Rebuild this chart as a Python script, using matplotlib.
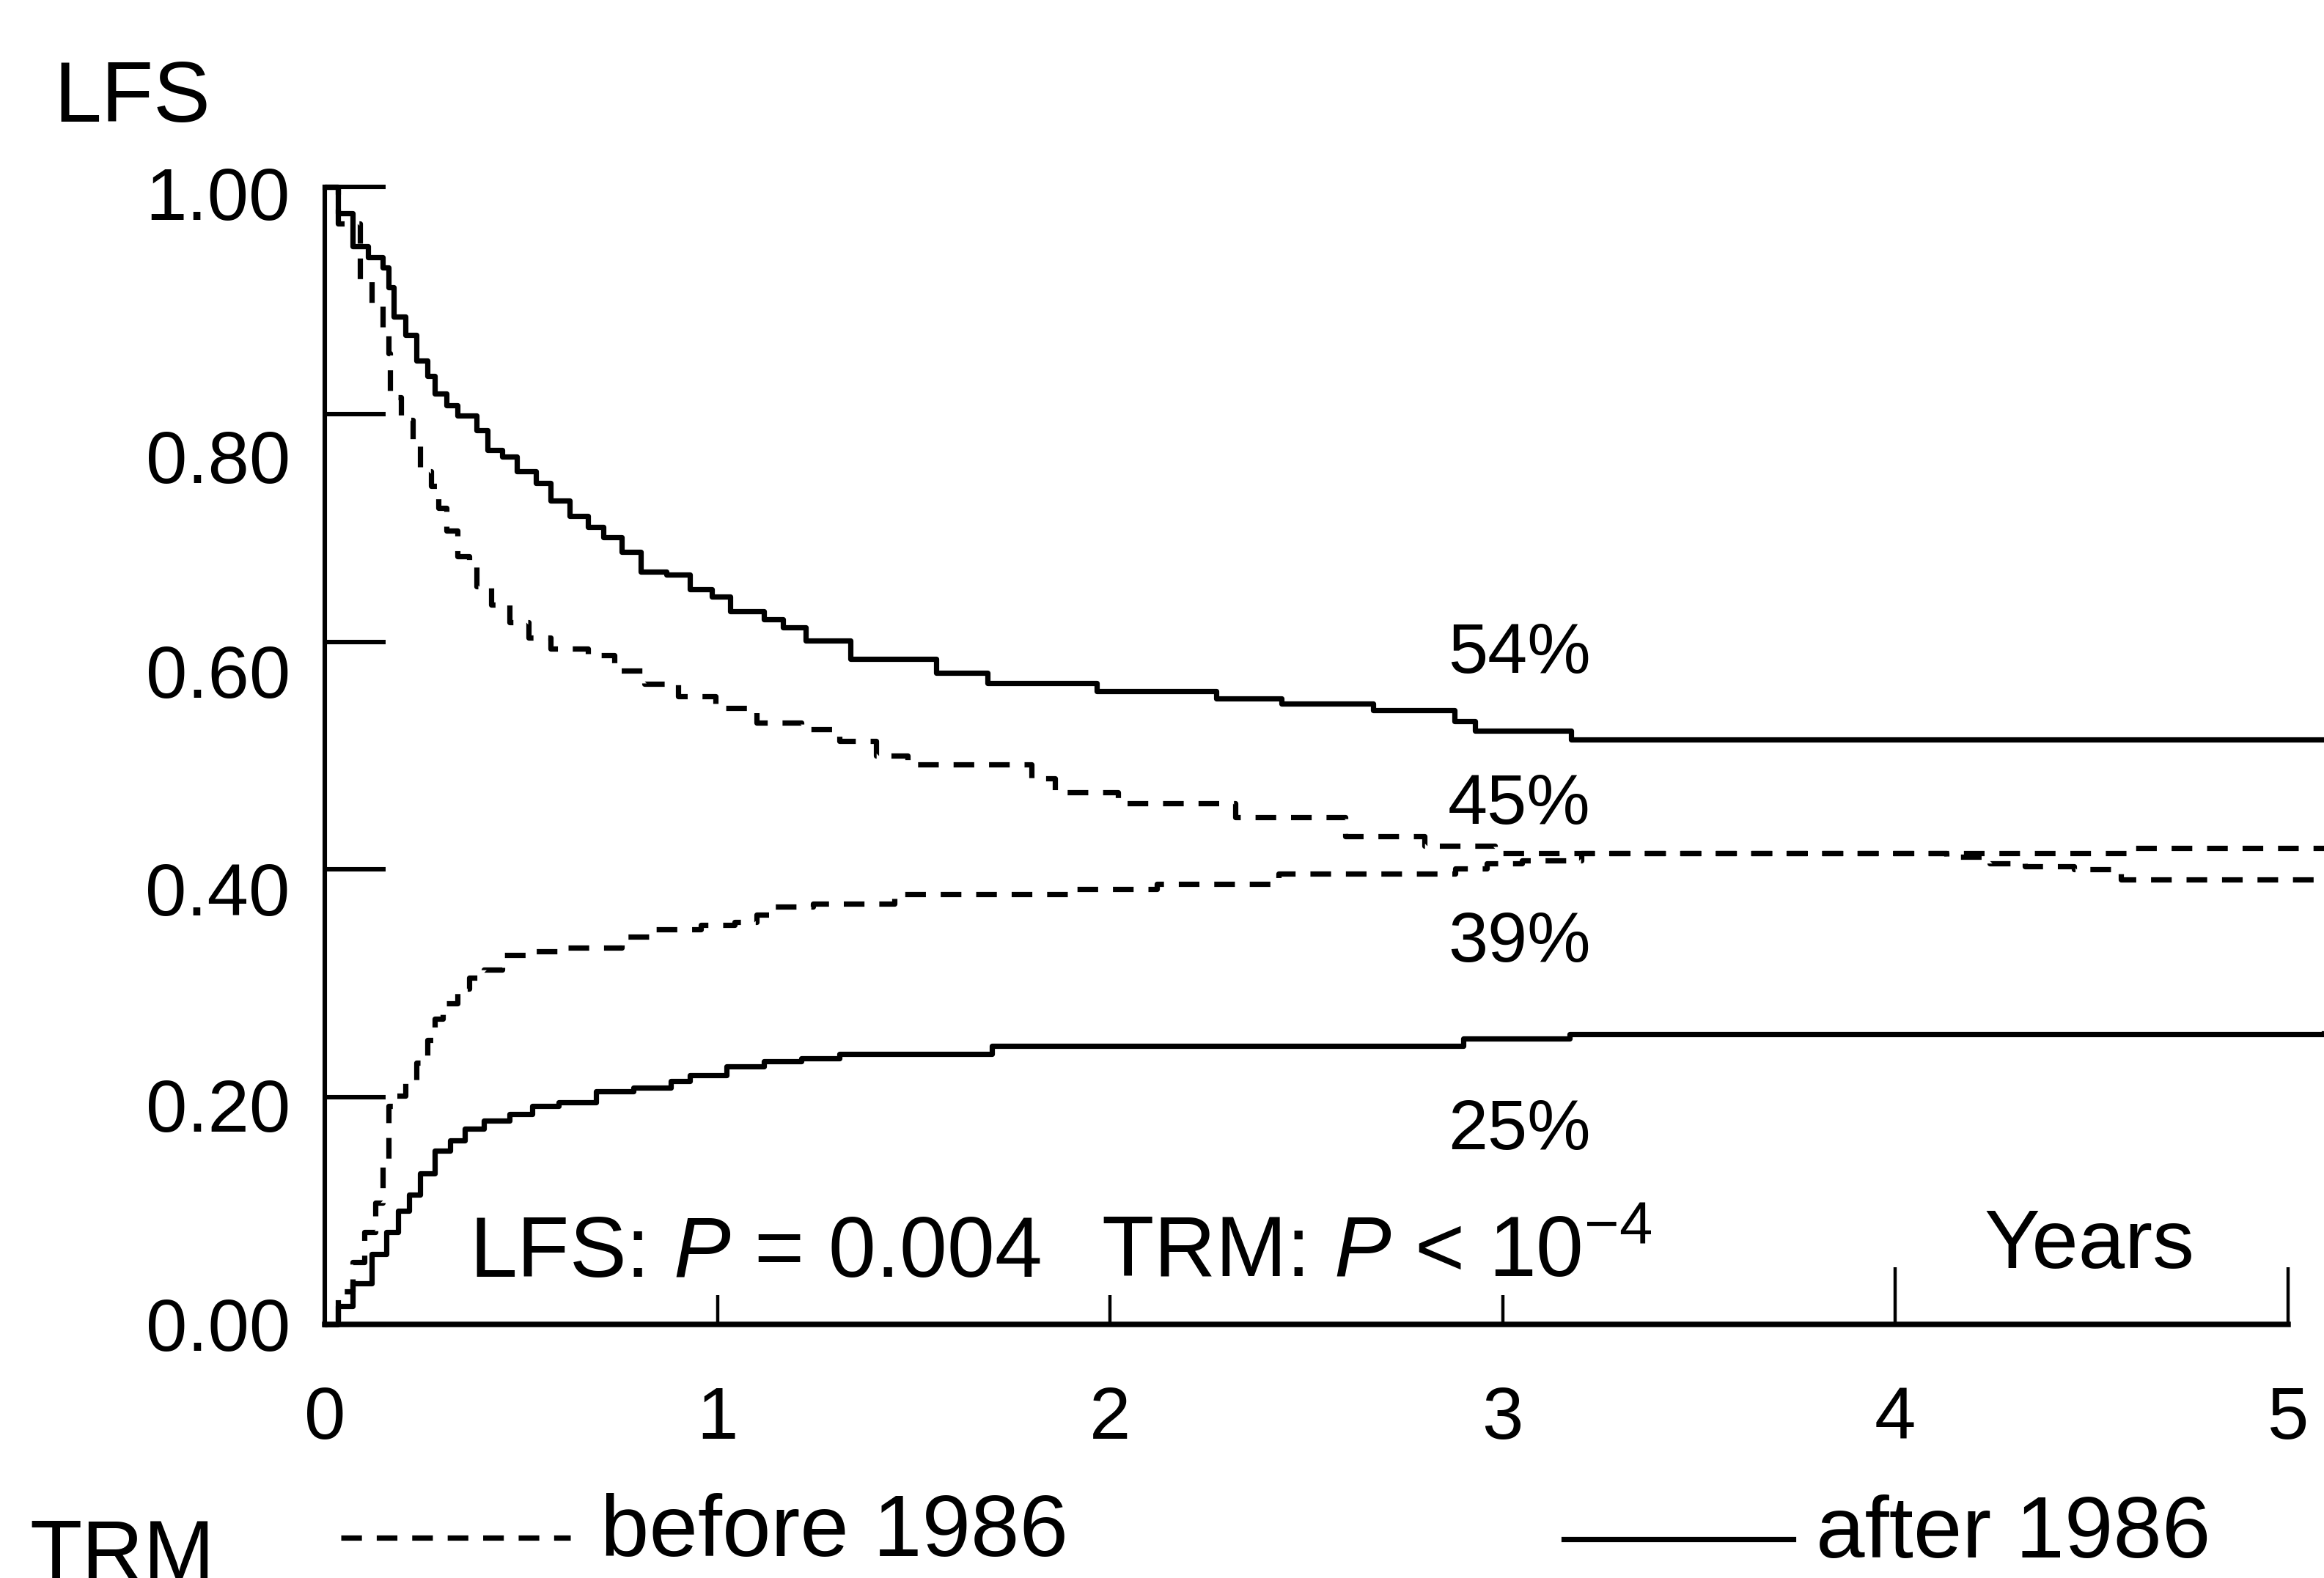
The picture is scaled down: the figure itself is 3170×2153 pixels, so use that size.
import matplotlib
matplotlib.use("Agg")
import numpy as np
import matplotlib.pyplot as plt
from matplotlib.lines import Line2D
from matplotlib.transforms import ScaledTranslation

plt.rcParams['font.family'] = ['Liberation Sans', 'DejaVu Sans']
plt.rcParams['mathtext.fontset'] = 'custom'
plt.rcParams['mathtext.rm'] = 'Liberation Sans'
plt.rcParams['mathtext.it'] = 'Liberation Sans:italic'

# ---------------- data (years, proportion) ----------------
lfs_after_t = [0, 0.033, 0.071, 0.11, 0.148, 0.162, 0.176, 0.205, 0.233, 0.262, 0.281,
               0.31, 0.338, 0.386, 0.414, 0.452, 0.49, 0.538, 0.576, 0.624, 0.671, 0.71,
               0.757, 0.805, 0.871, 0.929, 0.986, 1.033, 1.119, 1.167, 1.224, 1.338,
               1.557, 1.688, 1.967, 2.27, 2.437, 2.67, 2.877, 2.93, 3.175, 5.092]
lfs_after_v = [1.0, 0.977, 0.948, 0.938, 0.929, 0.912, 0.886, 0.870, 0.847, 0.834, 0.818,
               0.808, 0.799, 0.786, 0.769, 0.763, 0.750, 0.740, 0.724, 0.711, 0.701, 0.692,
               0.679, 0.662, 0.659, 0.646, 0.640, 0.627, 0.620, 0.613, 0.601, 0.585,
               0.573, 0.564, 0.557, 0.550, 0.546, 0.540, 0.530, 0.522, 0.514, 0.514]

lfs_before_t = [0, 0.033, 0.09, 0.119, 0.148, 0.162, 0.167, 0.195, 0.224, 0.243, 0.271,
                0.29, 0.31, 0.338, 0.367, 0.386, 0.424, 0.471, 0.519, 0.576, 0.671, 0.738,
                0.814, 0.9, 0.995, 1.1, 1.214, 1.31, 1.405, 1.485, 1.80, 1.86, 2.02, 2.32,
                2.60, 2.80, 2.98, 4.13, 4.24, 4.33, 4.455, 4.575, 5.092]
lfs_before_v = [1.0, 0.968, 0.919, 0.896, 0.873, 0.854, 0.815, 0.795, 0.773, 0.750, 0.737,
                0.718, 0.698, 0.675, 0.666, 0.649, 0.633, 0.617, 0.604, 0.594, 0.588, 0.575,
                0.563, 0.552, 0.542, 0.529, 0.523, 0.513, 0.500, 0.492, 0.480, 0.468, 0.458,
                0.446, 0.429, 0.421, 0.414, 0.411, 0.405, 0.403, 0.400, 0.391, 0.391]

trm_before_t = [0, 0.033, 0.071, 0.1, 0.129, 0.148, 0.162, 0.176, 0.205, 0.233, 0.262,
                0.281, 0.3, 0.338, 0.367, 0.405, 0.452, 0.529, 0.595, 0.757, 0.833, 0.957,
                1.043, 1.1, 1.138, 1.243, 1.45, 1.91, 2.12, 2.43, 2.88, 2.96, 3.05, 3.2,
                4.6, 5.092]
trm_before_v = [0.0, 0.029, 0.055, 0.081, 0.107, 0.140, 0.192, 0.201, 0.214, 0.230, 0.250,
                0.269, 0.282, 0.295, 0.305, 0.312, 0.325, 0.328, 0.331, 0.341, 0.347, 0.351,
                0.354, 0.360, 0.367, 0.370, 0.378, 0.383, 0.387, 0.396, 0.401, 0.405, 0.408,
                0.414, 0.419, 0.419]

trm_after_t = [0, 0.033, 0.071, 0.119, 0.157, 0.186, 0.214, 0.243, 0.281, 0.319, 0.357,
               0.405, 0.471, 0.529, 0.595, 0.69, 0.786, 0.881, 0.929, 1.024, 1.119, 1.214,
               1.31, 1.70, 2.90, 3.17, 5.092]
trm_after_v = [0.0, 0.016, 0.036, 0.062, 0.081, 0.100, 0.114, 0.133, 0.153, 0.162, 0.172,
               0.179, 0.185, 0.192, 0.195, 0.205, 0.208, 0.214, 0.219, 0.227, 0.231, 0.234,
               0.238, 0.245, 0.251, 0.255, 0.256]

y_ticks = [0.0, 0.2, 0.4, 0.6, 0.8, 1.0]
y_ticklabels = ["0.00", "0.20", "0.40", "0.60", "0.80", "1.00"]
y_label_nudge_px = [0, 11, 26, 40, 57, 8]
x_ticks_short = [0, 1, 2, 3]
x_ticks_long = [4, 5]

pct_labels = ["54%", "45%", "39%", "25%"]
pct_y = [0.573, 0.440, 0.319, 0.154]

# ---------------- figure ----------------
W, H = 3170, 2153
fig = plt.figure(figsize=(W / 100, H / 100), dpi=100)
ax = fig.add_axes([443 / W, 1 - 1807 / H, 1 - 443 / W, (1807 - 255) / H])
ax.set_xlim(0, 5.092)
ax.set_ylim(0, 1)

LW = 5.2
DASH_ON, DASH_OFF = 3.9, 2.8


def step_path_length_pts(t, v, t_stop):
    """Length (points) of the steps-post path from its start up to t_stop."""
    xs, ys = [t[0]], [v[0]]
    for i in range(1, len(t)):
        if t[i] > t_stop:
            xs.append(t_stop)
            ys.append(v[i - 1])
            break
        xs += [t[i], t[i]]
        ys += [v[i - 1], v[i]]
    d = ax.transData.transform(np.column_stack([xs, ys]))
    seg = np.diff(d, axis=0)
    return float(np.sum(np.hypot(seg[:, 0], seg[:, 1]))) * 72.0 / fig.dpi


# align dash phase of the two dashed curves where they coincide (from ~3.2 years)
merge_t = 3.2
period_pts = (DASH_ON + DASH_OFF) * LW
len_l = step_path_length_pts(lfs_before_t, lfs_before_v, merge_t)
len_t = step_path_length_pts(trm_before_t, trm_before_v, merge_t)
trm_offset = ((len_l - len_t) % period_pts) / LW

ax.plot(lfs_after_t, lfs_after_v, drawstyle='steps-post', color='black', lw=LW, clip_on=False)
ax.plot(lfs_before_t, lfs_before_v, drawstyle='steps-post', color='black', lw=LW,
        ls=(0, (DASH_ON, DASH_OFF)), clip_on=False)
ax.plot(trm_before_t, trm_before_v, drawstyle='steps-post', color='black', lw=LW,
        ls=(trm_offset, (DASH_ON, DASH_OFF)), clip_on=False)
ax.plot(trm_after_t, trm_after_v, drawstyle='steps-post', color='black', lw=LW, clip_on=False)

for s in ['top', 'right']:
    ax.spines[s].set_visible(False)
ax.spines['left'].set_bounds(0, 1)
ax.spines['bottom'].set_bounds(0, 5)
ax.spines['left'].set_linewidth(4.4)
ax.spines['bottom'].set_linewidth(5.4)

ax.set_yticks(y_ticks, labels=y_ticklabels)
ax.tick_params(axis='y', direction='in', length=60, width=4.4, pad=34, labelsize=73)
ax.set_xticks(x_ticks_short, labels=[str(v) for v in x_ticks_short])
ax.set_xticks(x_ticks_long, labels=[str(v) for v in x_ticks_long], minor=True)
ax.tick_params(axis='x', which='major', direction='in', length=29, width=3.2, pad=60, labelsize=73)
ax.tick_params(axis='x', which='minor', direction='in', length=56, width=3.2, pad=60, labelsize=73)

for tick, dy in zip(ax.yaxis.get_major_ticks(), y_label_nudge_px):
    tick.label1.set_transform(tick.label1.get_transform() +
                              ScaledTranslation(0, -dy / 100, fig.dpi_scale_trans))

# annotations
for lab, yv in zip(pct_labels, pct_y):
    ax.text(2.861, yv, lab, fontsize=70, va='baseline', ha='left')
ax.text(0.368, 0.0419, r"LFS: $P$ = 0.004", fontsize=84, va='baseline', ha='left')
ax.text(1.978, 0.0419, r"TRM: $P$ < 10$^{-4}$", fontsize=84, va='baseline', ha='left')
ax.text(4.226, 0.0496, "Years", fontsize=82, va='baseline', ha='left')

fig.text(73 / W, 1 - 166 / H, "LFS", fontsize=84, va='baseline', ha='left')
fig.text(40 / W, -0.001, "TRM", fontsize=84, va='baseline', ha='left')

# legend keys
fig.add_artist(Line2D([465 / W, 778 / W], [1 - 2098 / H] * 2, transform=fig.transFigure,
                      color='black', lw=LW, ls=(0, (DASH_ON, DASH_OFF))))
fig.text(819 / W, 1 - 2123 / H, "before 1986", fontsize=86, va='baseline', ha='left')
fig.add_artist(Line2D([2133 / W, 2446 / W], [1 - 2100 / H] * 2, transform=fig.transFigure,
                      color='black', lw=LW))
fig.text(2477 / W, 1 - 2125 / H, "after 1986", fontsize=86, va='baseline', ha='left')

fig.savefig("out.png", dpi=100)
